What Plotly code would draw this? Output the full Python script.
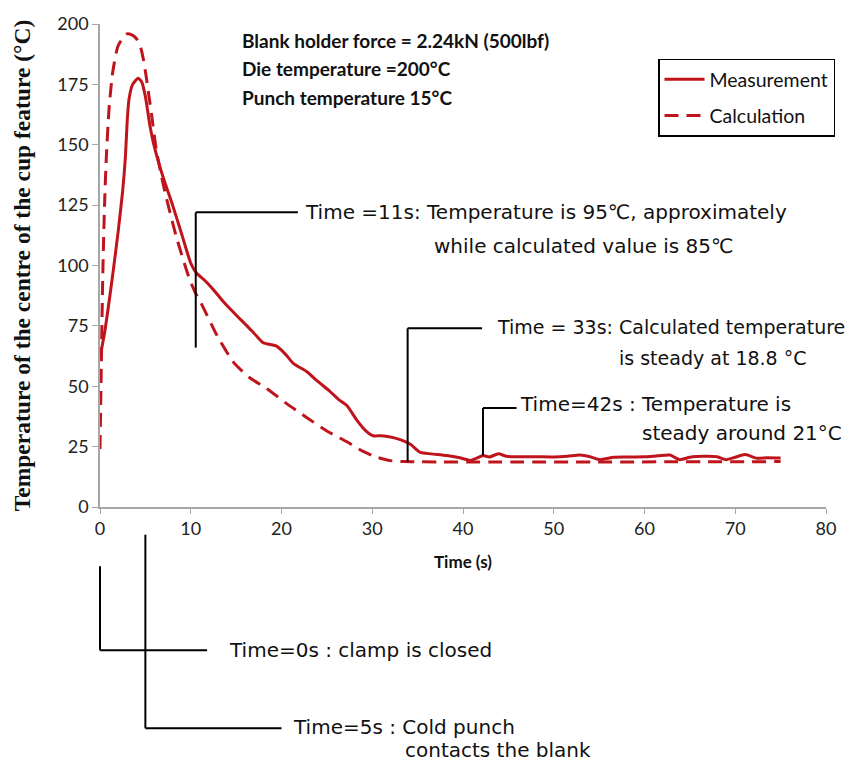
import plotly.graph_objects as go

# ---- data ----
meas_t = [0, 0.5, 1, 1.5, 2, 2.5, 2.8, 3.0, 3.2, 3.6, 4.2, 4.6, 5.0, 5.5, 6, 7, 8, 9, 10, 10.6,
          11.5, 12.5, 13.6, 15, 16.2, 17.2, 18, 19.5, 20.5, 21.3, 22.8, 24, 25.3, 26.3, 27.2,
          28.3, 29.3, 30.1, 31, 32, 33, 34.2, 35.3, 36.5, 38.2, 39.5, 40.8, 41.5, 42.2, 42.9,
          43.9, 44.8, 46, 48, 50, 51.5, 52.9, 54, 55.1, 56.6, 58, 60, 61.5, 62.8, 63.9, 65,
          66.6, 68, 69, 70, 71.1, 72.4, 73.5, 75]
meas_v = [62, 72, 85, 99, 114, 131, 145, 160, 169, 175, 177.5, 176, 170, 158, 149, 136, 125, 113, 101, 97,
          94, 90, 85, 79.5, 75, 71, 68, 66.5, 63, 59.5, 56, 52, 48, 44.5, 42,
          36, 31.5, 29.5, 29.5, 29, 28, 26, 22.6, 22, 21.3, 20.5, 19.3, 20.2, 21.3, 20.7,
          22, 21, 20.8, 20.8, 20.7, 21, 21.5, 20.8, 19.6, 20.6, 20.7, 20.8, 21.2, 21.5, 19.6, 20.6,
          21, 20.8, 19.6, 20.6, 21.7, 20.2, 20.4, 20.3]

calc_t = [0, 0.15, 0.3, 0.5, 0.7, 1.0, 1.4, 2.0, 2.9, 3.5, 4.0, 4.5, 4.8, 5.1, 5.4, 5.7, 6.2, 7.0,
          8.4, 9.9, 10.6, 11, 12.9, 14.7, 16.5, 18.4, 20.5, 22.8, 25, 27.2, 29, 30.5, 32, 33.5, 75]
calc_v = [24, 60, 95, 125, 145, 165, 180, 191, 195.8, 195.5, 194, 190, 185, 178, 170, 162, 148, 133,
          112, 94, 88, 85.5, 71, 60, 53.5, 49, 43, 37, 31.5, 27, 23, 20.6, 19.2, 18.8, 18.8]

x_ticks = [0, 10, 20, 30, 40, 50, 60, 70, 80]
y_ticks = [0, 25, 50, 75, 100, 125, 150, 175, 200]

RED = "#C0141C"


def ann_font(size=20):
    return dict(family="DejaVu Sans", size=size, color="#111111")


fig = go.Figure()
fig.add_trace(go.Scatter(x=meas_t, y=meas_v, mode="lines", name="Measurement",
                         legendgroup="m",
                         line=dict(color=RED, width=3, shape="spline", smoothing=0.6)))
fig.add_trace(go.Scatter(x=calc_t, y=calc_v, mode="lines", name="Calculation",
                         legendgroup="c",
                         line=dict(color=RED, width=3, dash="14px,8px", shape="spline", smoothing=0.6)))

# callout lines inside the plot (data coordinates)
callouts = [
    (10.55, 66, 10.55, 122), (10.55, 122, 21.8, 122),
    (33.9, 18.8, 33.9, 74), (33.9, 74, 42.1, 74),
    (42.2, 21.3, 42.2, 41), (42.2, 41, 45.9, 41),
]
for x0, y0, x1, y1 in callouts:
    fig.add_shape(type="line", xref="x", yref="y", x0=x0, y0=y0, x1=x1, y1=y1,
                  line=dict(color="black", width=2))

texts = [
    (22.4, 122, "Time =11s: Temperature is 95℃, approximately", 20),
    (36.6, 108, "while calculated value is 85℃", 20),
    (43.5, 74.5, "Time = 33s: Calculated temperature", 19),
    (57.0, 61.5, "is steady at 18.8 °C", 19),
    (46.1, 42.5, "Time=42s : Temperature is", 20),
    (59.5, 30.5, "steady around 21°C", 20),
]
for x, y, t, s in texts:
    fig.add_annotation(x=x, y=y, xref="x", yref="y", text=t, showarrow=False,
                       xanchor="left", yanchor="middle", font=ann_font(s))


# callouts below the axis (paper coordinates)
def py(p):  # pixel y -> paper y
    return (507 - p) / 489.0


def px(t):  # time -> paper x
    return t / 80.0


below = [
    (0, 567, 0, 652), (0, 652, 11.8, 652),
    (5, 535, 5, 731), (5, 731, 20.0, 731),
]
for t0, p0, t1, p1 in below:
    fig.add_shape(type="line", xref="paper", yref="paper",
                  x0=px(t0), y0=py(p0), x1=px(t1), y1=py(p1),
                  line=dict(color="black", width=2))

fig.add_annotation(x=px(14.0), y=py(652), xref="paper", yref="paper", text="Time=0s : clamp is closed",
                   showarrow=False, xanchor="left", yanchor="middle", font=ann_font())
fig.add_annotation(x=px(21.1), y=py(730), xref="paper", yref="paper", text="Time=5s : Cold punch",
                   showarrow=False, xanchor="left", yanchor="middle", font=ann_font())
fig.add_annotation(x=px(33.4), y=py(753), xref="paper", yref="paper", text="contacts the blank",
                   showarrow=False, xanchor="left", yanchor="middle", font=ann_font())

# conditions text
cond = ["Blank holder force = 2.24kN (500lbf)", "Die temperature =200°C", "Punch temperature 15°C"]
cond_y = [35, 63, 92]
for t, yy in zip(cond, cond_y):
    fig.add_annotation(x=(240 - 100) / 726.0, y=py(yy), xref="paper", yref="paper", text="<b>%s</b>" % t,
                       showarrow=False, xanchor="left", yanchor="middle",
                       font=dict(family="Lato", size=19, color="#111111"))

fig.update_layout(
    width=859, height=767,
    margin=dict(l=100, r=33, t=18, b=260),
    paper_bgcolor="white", plot_bgcolor="white",
    showlegend=True,
    legend=dict(x=(658 - 100) / 726.0, y=py(53), xanchor="left", yanchor="top",
                bordercolor="black", borderwidth=1.5, bgcolor="white",
                font=dict(family="Lato", size=19.5, color="#111111"),
                traceorder="grouped", tracegroupgap=8, itemwidth=40),
    xaxis=dict(range=[0, 80], tickvals=x_ticks, ticktext=[str(v) for v in x_ticks],
               showgrid=False, zeroline=False, showline=True, linecolor="#A6A6A6", linewidth=1.5,
               ticks="outside", ticklen=5, tickcolor="#A6A6A6",
               tickfont=dict(family="Lato", size=18, color="#222222"),
               title=dict(text="<b>Time (s)</b>", standoff=18,
                          font=dict(family="Lato", size=17, color="#111111"))),
    yaxis=dict(range=[0, 200], tickvals=y_ticks, ticktext=[str(v) for v in y_ticks],
               showgrid=False, zeroline=False, showline=True, linecolor="#A6A6A6", linewidth=1.5,
               ticks="outside", ticklen=6, tickcolor="#A6A6A6",
               tickfont=dict(family="Lato", size=18, color="#222222"),
               title=dict(text="<b>Temperature of the centre of the cup feature (°C)</b>", standoff=20,
                          font=dict(family="Liberation Serif", size=23.5, color="#111111"))),
)

fig.write_html("out.html")
